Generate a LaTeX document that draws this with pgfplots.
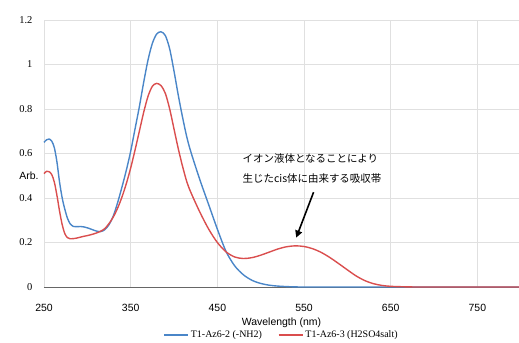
\documentclass[border=0pt]{standalone}
\usepackage{fontspec}
\setmainfont{Liberation Serif}
\setsansfont{Liberation Sans}
\newfontfamily\cjk{Noto Sans CJK JP}
\usepackage{pgfplots}
\pgfplotsset{compat=1.18}
\usetikzlibrary{arrows.meta}
\definecolor{cblue}{RGB}{74,134,200}
\definecolor{cred}{RGB}{218,78,78}
\definecolor{cgrid}{RGB}{224,224,224}
\begin{document}
\begin{tikzpicture}
\path[use as bounding box] (-44bp,-56bp) rectangle (475bp,287bp);
\begin{axis}[
  scale only axis, width=475bp, height=267bp,
  xmin=250, xmax=798, ymin=0, ymax=1.2,
  xtick={250,350,450,550,650,750},
  ytick={0,0.2,0.4,0.6,0.8,1,1.2},
  yticklabels={0,0.2,0.4,0.6,0.8,1,1.2},
  axis line style={draw=none},
  grid=major, major grid style={cgrid, line width=0.8pt},
  tick style={draw=none},
  xticklabel style={font=\sffamily\fontsize{10.5}{12}\selectfont, anchor=center, yshift=-21bp},
  yticklabel style={font=\rmfamily\fontsize{10.5}{12}\selectfont, anchor=east, xshift=-8bp},
  /pgf/number format/assume math mode=true,
  xlabel={Wavelength (nm)},
  xlabel style={font=\sffamily\fontsize{10.5}{12}\selectfont, at={(rel axis cs:0.5,0)}, anchor=center, yshift=-36bp},
  legend style={draw=none, at={(0.5,-0.18)}, anchor=center, legend columns=2, font=\rmfamily\fontsize{10}{12}\selectfont, /tikz/every even column/.append style={column sep=14bp}, inner sep=0pt},
  legend image code/.code={\draw[#1, line width=1.4pt] (0cm,0cm) -- (0.85cm,0cm);},
  clip=false,
]
\draw[black!60, line width=0.8pt] (axis cs:250,0) -- (axis cs:798,0);
\addplot[cblue, line width=1.4pt, smooth, tension=0.5] coordinates {
(250,0.650) (253,0.662) (256,0.665) (259,0.655) (262,0.625) (265,0.56) (268,0.47) (271,0.40) (274,0.35) (277,0.31) (280,0.285) (284,0.272) (288,0.271) (292,0.272) (296,0.270) (300,0.266) (305,0.259) (310,0.252) (315,0.249) (320,0.257) (325,0.28) (330,0.32) (335,0.38) (340,0.45) (345,0.525) (350,0.61) (355,0.71) (360,0.81) (365,0.92) (370,1.02) (375,1.095) (380,1.137) (385,1.147) (390,1.13) (395,1.07) (400,0.97) (405,0.86) (410,0.76) (415,0.67) (420,0.60) (430,0.48) (440,0.37) (450,0.26) (460,0.16) (470,0.095) (480,0.055) (490,0.030) (500,0.016) (510,0.008) (520,0.004) (535,0.001) (550,0) (600,0) (700,0) (798,0)
};
\addlegendentry{T1-Az6-2 (-NH2)}
\addplot[cred, line width=1.4pt, smooth, tension=0.5] coordinates {
(250,0.510) (253,0.520) (256,0.518) (259,0.505) (262,0.47) (265,0.41) (268,0.34) (271,0.28) (274,0.24) (277,0.222) (280,0.217) (285,0.218) (290,0.222) (295,0.227) (300,0.231) (305,0.236) (310,0.242) (315,0.25) (320,0.262) (325,0.285) (330,0.315) (335,0.355) (340,0.405) (345,0.465) (350,0.535) (355,0.615) (360,0.70) (365,0.785) (370,0.857) (375,0.902) (380,0.915) (385,0.905) (390,0.87) (395,0.80) (400,0.71) (405,0.62) (410,0.54) (415,0.47) (420,0.42) (430,0.335) (440,0.26) (450,0.20) (460,0.158) (470,0.135) (480,0.128) (490,0.132) (500,0.143) (510,0.157) (520,0.171) (530,0.181) (540,0.185) (550,0.182) (560,0.172) (570,0.155) (580,0.132) (590,0.105) (600,0.077) (610,0.050) (620,0.029) (630,0.015) (640,0.007) (650,0.003) (665,0.001) (680,0) (700,0) (798,0)
};
\addlegendentry{T1-Az6-3 (H2SO4salt)}
\node[anchor=west, font=\cjk\fontsize{10.5}{12}\selectfont, inner sep=0pt] at (axis cs:479,0.578) {イオン液体となることにより};
\node[anchor=west, font=\cjk\fontsize{10.5}{12}\selectfont, inner sep=0pt] at (axis cs:479,0.488) {生じたcis体に由来する吸収帯};
\draw[-{Triangle[length=7bp,width=7bp]}, line width=1.6pt] (axis cs:561,0.426) -- (axis cs:541,0.222);
\node[font=\sffamily\fontsize{10.5}{12}\selectfont, anchor=east, inner sep=0pt] at (axis cs:244,0.5) {Arb.};
\end{axis}
\end{tikzpicture}
\end{document}
